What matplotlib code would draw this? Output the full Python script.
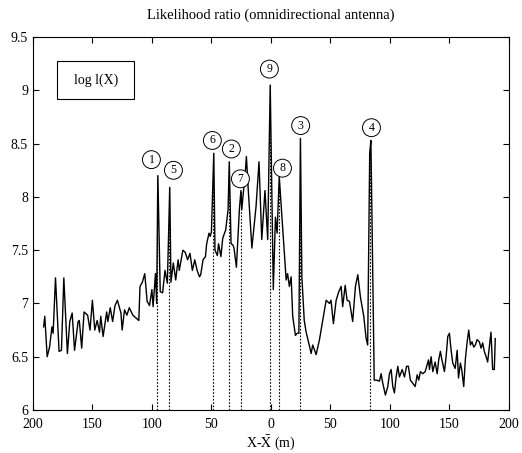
#!/usr/bin/env python3
"""Likelihood ratio along the track (omnidirectional antenna), peaks numbered."""

import matplotlib
matplotlib.use("Agg")
import matplotlib.pyplot as plt
from matplotlib.patches import Rectangle
import numpy as np

# offset along track X - Xbar (m)
pos_m = [-191, -190, -188, -186, -184, -183, -181, -178, -176, -174,
         -171, -169, -167, -165, -162, -161, -159, -157, -154, -152,
         -150, -148, -146, -144, -143, -141, -138, -137, -135, -133,
         -131, -129, -126, -125, -123, -121, -119, -116, -113, -111,
         -110, -108, -106, -104, -102, -100, -99, -97, -96, -95,
         -93, -91, -89, -87, -85, -84, -82, -80, -78, -77,
         -75, -74, -72, -70, -68, -66, -64, -62, -60, -59,
         -57, -55, -54, -52, -51, -50, -48, -47, -45, -44,
         -42, -40.5, -39, -38, -36, -35, -33.5, -32, -31, -29,
         -28, -26.5, -25.2, -24.5, -23, -22, -20.6, -19, -16, -12.5,
         -10, -7.7, -5, -2.7, -0.6, 2, 3.8, 5.2, 7, 10,
         12.8, 14, 15.5, 17, 18.3, 20.6, 22, 23.5, 24.8, 26,
         28, 29.6, 32.4, 33.8, 35.1, 38, 40.8, 43.5, 46.4, 49.2,
         50.5, 52.5, 54.8, 57, 59, 60.3, 62.4, 64, 66, 68.7,
         71, 73, 75.2, 78, 80, 81.3, 83, 84, 86.8, 89,
         91.2, 92.6, 94, 96.2, 98.2, 99.6, 101, 102.4, 103.8, 105.2,
         106.6, 108, 110.3, 112.2, 114, 115.5, 117.2, 119.2, 121.2, 122.9,
         124.2, 125.6, 127.6, 129.6, 130.9, 132.4, 133.2, 134.6, 136, 138,
         139.7, 141, 142.4, 143.5, 145.8, 147.2, 148.6, 150, 151.4, 152.8,
         154.8, 156.5, 157.6, 159.2, 160.3, 162, 163.4, 164.8, 166.2, 167.6,
         169, 170.4, 171.8, 173.2, 175.1, 176.6, 177.9, 179.3, 180.8, 182.1,
         183.5, 184.9, 186.3, 187.7, 188.5]
log_lr = [6.78, 6.88, 6.50, 6.59, 6.78, 6.72, 7.24, 6.55, 6.56, 7.24,
          6.53, 6.83, 6.91, 6.56, 6.83, 6.84, 6.58, 6.92, 6.89, 6.75,
          7.03, 6.75, 6.84, 6.73, 6.88, 6.69, 6.92, 6.83, 6.96, 6.83,
          6.98, 7.03, 6.91, 6.75, 6.94, 6.89, 6.96, 6.89, 6.86, 6.84,
          7.16, 7.20, 7.28, 7.02, 6.98, 7.13, 6.97, 7.28, 7.00, 8.20,
          7.11, 7.10, 7.31, 7.19, 8.09, 7.20, 7.38, 7.22, 7.41, 7.31,
          7.44, 7.50, 7.48, 7.41, 7.47, 7.31, 7.41, 7.31, 7.25, 7.27,
          7.41, 7.44, 7.56, 7.66, 7.63, 7.67, 8.41, 7.50, 7.45, 7.56,
          7.44, 7.61, 7.66, 7.69, 7.88, 8.33, 7.56, 7.55, 7.52, 7.34,
          7.56, 7.88, 8.06, 7.88, 8.06, 8.16, 8.38, 8.06, 7.52, 7.91,
          8.33, 7.60, 8.06, 7.60, 9.05, 7.13, 7.81, 7.66, 8.19, 7.69,
          7.22, 7.28, 7.16, 7.25, 6.88, 6.70, 6.72, 6.72, 8.55, 7.25,
          6.84, 6.73, 6.60, 6.53, 6.61, 6.52, 6.66, 6.84, 7.03, 7.00,
          7.03, 6.81, 7.03, 7.11, 7.16, 6.97, 7.17, 7.03, 7.02, 6.83,
          7.16, 7.27, 7.06, 6.88, 6.67, 6.61, 8.41, 8.53, 6.28, 6.28,
          6.27, 6.34, 6.25, 6.14, 6.22, 6.34, 6.38, 6.22, 6.16, 6.31,
          6.41, 6.31, 6.38, 6.31, 6.41, 6.41, 6.28, 6.25, 6.22, 6.33,
          6.28, 6.36, 6.34, 6.36, 6.41, 6.47, 6.38, 6.50, 6.36, 6.45,
          6.34, 6.47, 6.55, 6.48, 6.36, 6.50, 6.69, 6.72, 6.56, 6.44,
          6.39, 6.56, 6.30, 6.44, 6.38, 6.22, 6.48, 6.63, 6.75, 6.61,
          6.64, 6.59, 6.61, 6.66, 6.64, 6.58, 6.63, 6.55, 6.50, 6.45,
          6.59, 6.73, 6.38, 6.38, 6.67]

# numbered peaks: label, dotted-line position, peak height, label position
peak_ids = ["1", "5", "6", "2", "7", "9", "8", "3", "4"]
peak_x = [-95.6, -85.9, -48.6, -35.5, -24.8, -0.7, 7.1, 24.8, 83.4]
peak_top = [8.20, 8.09, 8.41, 8.33, 8.06, 9.05, 8.19, 8.55, 8.53]
label_x = [-100.4, -81.9, -49.2, -33.2, -25.6, -1.3, 9.7, 25.0, 84.5]
label_y = [8.35, 8.25, 8.53, 8.45, 8.17, 9.20, 8.27, 8.67, 8.65]

xticks = [-200, -150, -100, -50, 0, 50, 100, 150, 200]
yticks = [6, 6.5, 7, 7.5, 8, 8.5, 9, 9.5]

plt.rcParams["font.family"] = ["Liberation Serif", "DejaVu Serif"]
plt.rcParams["mathtext.fontset"] = "stix"

fig = plt.figure(figsize=(5.22, 4.53), dpi=100)
ax = fig.add_axes([0.063, 0.095, 0.912, 0.823])

for xm, top in zip(peak_x, peak_top):
    ax.plot([xm, xm], [6, top], ls=(0, (1.5, 1.5)), c="black", lw=0.8)
ax.plot(pos_m, log_lr, c="black", lw=1.0)

for lab, lx, ly in zip(peak_ids, label_x, label_y):
    ax.text(lx, ly, lab, ha="center", va="center", fontsize=8.5,
            bbox=dict(boxstyle="circle,pad=0.25", fc="white", ec="black", lw=0.7))

ax.add_patch(Rectangle((0.051, 0.834), 0.161, 0.103, transform=ax.transAxes,
                       fill=False, ec="black", lw=0.8))
ax.text(0.132, 0.885, "log l(X)", transform=ax.transAxes, ha="center", va="center",
        fontsize=10)

ax.set_xlim(-200, 200)
ax.set_ylim(6, 9.5)
ax.set_xticks(xticks)
ax.set_xticklabels([str(abs(t)) for t in xticks])
ax.set_yticks(yticks)
ax.set_yticklabels([f"{t:g}" for t in yticks])
ax.tick_params(direction="in", top=True, right=True, labelsize=10, length=4)
ax.tick_params(axis="x", pad=6)
ax.set_xlabel(r"X-$\mathrm{\bar{X}}$ (m)", fontsize=10, labelpad=1)
ax.set_title("Likelihood ratio (omnidirectional antenna)", fontsize=10.5, pad=13)

fig.savefig("out.png", dpi=100)
